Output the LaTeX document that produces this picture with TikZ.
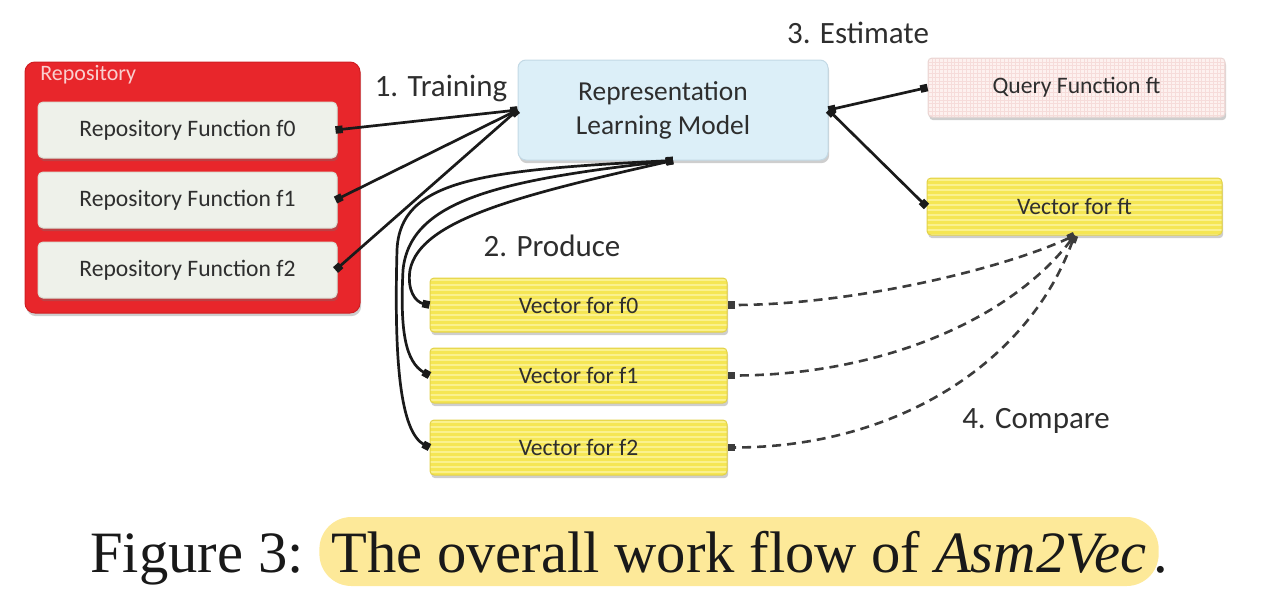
\documentclass[tikz,border=0pt]{standalone}
\usepackage{fontspec}
\setmainfont{Liberation Serif}
\newfontfamily\carlito{Carlito}
\usetikzlibrary{arrows.meta,shadows}
\definecolor{repred}{HTML}{E8262B}
\definecolor{repredline}{HTML}{D01E22}
\definecolor{replabel}{HTML}{F9CFCF}
\definecolor{repfill}{HTML}{EEF1EA}
\definecolor{repline}{HTML}{DADFD4}
\definecolor{modfill}{HTML}{DCEFF8}
\definecolor{modline}{HTML}{C3D9E5}
\definecolor{qfill}{HTML}{FDF1EF}
\definecolor{qgrid}{HTML}{F6DCDA}
\definecolor{qline}{HTML}{EAD6D4}
\definecolor{yfill}{HTML}{F5E654}
\definecolor{ystripe}{HTML}{FAF18E}
\definecolor{yline}{HTML}{E2D24A}
\definecolor{txt}{HTML}{2E2E2E}
\definecolor{lk}{HTML}{1A1A1A}
\definecolor{hl}{HTML}{FDE999}
\begin{document}
\begin{tikzpicture}[x=0.5pt,y=-0.5pt,
  shade/.style={drop shadow={shadow xshift=0.6pt,shadow yshift=-1.6pt,opacity=0.35,fill=black!55}},
  boxtext/.style={font=\carlito\fontsize{11.8}{14}\selectfont, text=txt, inner sep=0pt, line width=0.5pt},
  repbox/.style={boxtext, draw=repline, fill=repfill, rounded corners=2.5pt, minimum width=149.5pt, minimum height=28pt, shade},
  vecbox/.style={boxtext, draw=yline, fill=yfill, rounded corners=2pt, minimum width=148.5pt, minimum height=27.5pt, shade,
    path picture={\foreach \k in {0,...,24}{\draw[ystripe,line width=0.7pt] ([yshift=-\k*2.5pt-1pt]path picture bounding box.north west) -- ([yshift=-\k*2.5pt-1pt]path picture bounding box.north east);}}},
  qbox/.style={boxtext, draw=qline, fill=qfill, rounded corners=2pt, minimum width=148.5pt, minimum height=29.5pt, shade,
    path picture={\foreach \k in {0,...,80}{\draw[qgrid,line width=0.3pt] ([xshift=\k*1.9pt]path picture bounding box.north west) -- ([xshift=\k*1.9pt]path picture bounding box.south west);}
      \foreach \k in {0,...,16}{\draw[qgrid,line width=0.3pt] ([yshift=-\k*1.9pt]path picture bounding box.north west) -- ([yshift=-\k*1.9pt]path picture bounding box.north east);}}},
  steplabel/.style={font=\carlito\fontsize{15.5}{18}\selectfont, text=txt, inner sep=0pt},
  link/.style={draw=lk, line width=1.35pt, {Square[length=3.6pt,width=3.8pt]}-{Square[length=3.6pt,width=3.8pt]}},
  dlink/.style={link, draw=lk!85, line width=1.3pt, dash pattern=on 4.5pt off 3pt},
  capfont/.style={font=\fontsize{29.3}{34}\selectfont, text=black!90, inner sep=0pt}
]
\useasboundingbox (0,0) rectangle (1263,611);

% repository
\node[draw=repredline, fill=repred, rounded corners=5pt, minimum width=167.5pt, minimum height=125.5pt, inner sep=0pt, line width=0.5pt, shade] (repo) at (192.5,187.5) {};
\node[anchor=west, font=\carlito\fontsize{11}{13}\selectfont, text=replabel, inner sep=0pt] (repolabel) at (40,75) {Repository};
\node[repbox] (r0) at (187.5,130) {Repository Function f0};
\node[repbox] (r1) at (187.5,200) {Repository Function f1};
\node[repbox] (r2) at (187.5,270) {Repository Function f2};

% model
\node[draw=modline, fill=modfill, rounded corners=4pt, minimum width=155pt, minimum height=50pt, inner sep=0pt, line width=0.5pt, shade,
  font=\carlito\fontsize{13.7}{17}\selectfont, text=txt, align=center] (model) at (673,110) {Representation\hspace*{10pt}\\Learning Model\hspace*{10pt}};

% query and vectors
\node[qbox] (query) at (1076.5,87.5) {Query Function ft};
\node[vecbox, minimum width=147.5pt, minimum height=28.5pt] (vft) at (1074.5,206.5) {Vector for ft};
\node[vecbox, minimum height=27pt] (v0) at (578.5,305) {Vector for f0};
\node[vecbox] (v1) at (578.5,375.5) {Vector for f1};
\node[vecbox] (v2) at (578.5,447.5) {Vector for f2};

% step labels
\node[steplabel] (s1) at (441,88) {1. Training};
\node[steplabel] (s2) at (552,246) {2. Produce};
\node[steplabel] (s3) at (858,33) {3. Estimate};
\node[steplabel] (s4) at (1036,421) {4. Compare};

% training
\draw[link] ([xshift=-1pt]r0.east) -- (model.west);
\draw[link] ([xshift=-1pt]r1.east) -- (model.west);
\draw[link] ([xshift=-1pt]r2.east) -- (model.west);

% produce
\draw[link] (model.south) .. controls (520,195) and (420,220) .. (410,270) .. controls (407,290) and (415,302) .. (v0.west);
\draw[link] (model.south) .. controls (500,180) and (410,200) .. (403,270) .. controls (400,330) and (405,362) .. (v1.west);
\draw[link] (model.south) .. controls (480,170) and (400,180) .. (397,250) .. controls (394,360) and (400,432) .. (v2.west);

% estimate
\draw[link] (model.east) -- (query.west);
\draw[link] (model.east) -- (vft.west);

% compare
\draw[dlink] (vft.south) .. controls (1000,270) and (850,305) .. (v0.east);
\draw[dlink] (vft.south) .. controls (1010,320) and (880,375.5) .. (v1.east);
\draw[dlink] (vft.south) .. controls (1030,360) and (900,447.5) .. (v2.east);

% caption
\node[capfont, anchor=base west] (fig) at (90,572) {Figure 3:};
\node[capfont, anchor=base west, fill=hl, inner xsep=6pt, inner ysep=0pt, text height=27.5pt, text depth=7pt, rounded corners=16pt] (cap) at (319,572) {The overall work flow of \textit{Asm2Vec}};
\node[capfont, anchor=base west] (dot) at ([xshift=-3pt]cap.base east) {.};
\end{tikzpicture}
\end{document}
